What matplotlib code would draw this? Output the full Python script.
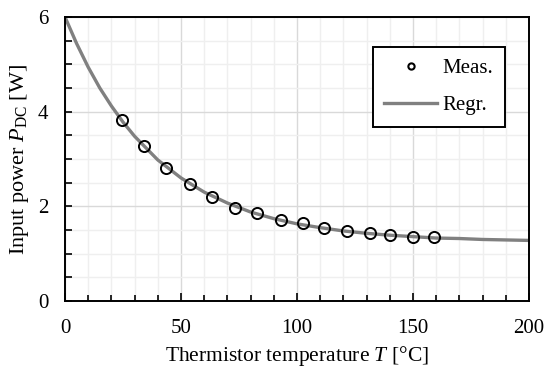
import matplotlib
matplotlib.use("Agg")
import matplotlib.pyplot as plt
from matplotlib.ticker import MultipleLocator

plt.rcParams["font.family"] = ["Liberation Serif", "DejaVu Serif"]
plt.rcParams["mathtext.fontset"] = "custom"
plt.rcParams["mathtext.rm"] = "Liberation Serif"
plt.rcParams["mathtext.it"] = "Liberation Serif:italic"

meas_T = [24.4, 34.0, 43.5, 53.9, 63.2, 73.3, 82.9, 92.9, 102.6,
          111.8, 121.4, 131.5, 140.1, 149.9, 159.2]
meas_P = [3.82, 3.27, 2.81, 2.48, 2.19, 1.97, 1.85, 1.71, 1.64,
          1.55, 1.48, 1.43, 1.39, 1.35, 1.35]

# regression curve
regr_T = [0, 5, 10, 15, 20, 25, 30, 40, 50, 60, 70, 80, 90, 100,
          110, 120, 130, 140, 150, 160, 170, 180, 190, 200]
regr_P = [6.00, 5.44, 4.94, 4.50, 4.12, 3.78, 3.48, 2.98, 2.60, 2.30,
          2.07, 1.88, 1.74, 1.63, 1.55, 1.48, 1.43, 1.39, 1.36, 1.33,
          1.32, 1.30, 1.29, 1.28]

x_ticks = [0, 50, 100, 150, 200]
y_ticks = [0, 2, 4, 6]

fig = plt.figure(figsize=(5.51, 3.70), dpi=100)
ax = fig.add_axes([65 / 551, 1 - 301 / 370, 464 / 551, 284 / 370])

ax.plot(regr_T, regr_P, color="#808080", lw=2.4, solid_joinstyle="round",
        label="Regr.", zorder=2)
ax.plot(meas_T, meas_P, ls="none", marker="o", ms=8, mfc="none",
        mec="black", mew=1.4, label="Meas.", zorder=3)

ax.set_xlim(0, 200)
ax.set_ylim(0, 6)
ax.set_xticks(x_ticks)
ax.set_yticks(y_ticks)
ax.xaxis.set_minor_locator(MultipleLocator(10))
ax.yaxis.set_minor_locator(MultipleLocator(0.5))

ax.grid(which="major", color="#d9d9d9", lw=1.0, zorder=0)
ax.grid(which="minor", color="#efefef", lw=1.0, zorder=0)
ax.set_axisbelow(True)

for s in ax.spines.values():
    s.set_linewidth(1.4)
ax.tick_params(which="both", direction="in", width=1.2, labelsize=15,
               top=False, right=False)
ax.tick_params(axis="x", which="major", length=6, pad=13)
ax.tick_params(axis="x", which="minor", length=4)
ax.tick_params(axis="y", which="major", length=5, pad=12)
ax.tick_params(axis="y", which="minor", length=5)

ax.set_xlabel(r"Thermistor temperature $\mathit{T}$ [°C]", fontsize=15.5,
              labelpad=4)
ax.set_ylabel(r"Input power $\mathit{P}_{\mathrm{DC}}$ [W]", fontsize=16,
              labelpad=5)

handles, labels = ax.get_legend_handles_labels()
leg = ax.legend(handles[::-1], labels[::-1], loc="upper right",
                bbox_to_anchor=(505 / 551, 1 - 47 / 370),
                bbox_transform=fig.transFigure, borderaxespad=0,
                fancybox=False, framealpha=1, edgecolor="black",
                fontsize=15, handlelength=2.5, labelspacing=0.85,
                borderpad=0.55, handletextpad=0.3)
leg.get_frame().set_linewidth(1.4)
leg.legend_handles[0].set_markersize(4.5)
leg.legend_handles[0].set_markeredgewidth(1.5)

fig.savefig("out.png", dpi=100)
